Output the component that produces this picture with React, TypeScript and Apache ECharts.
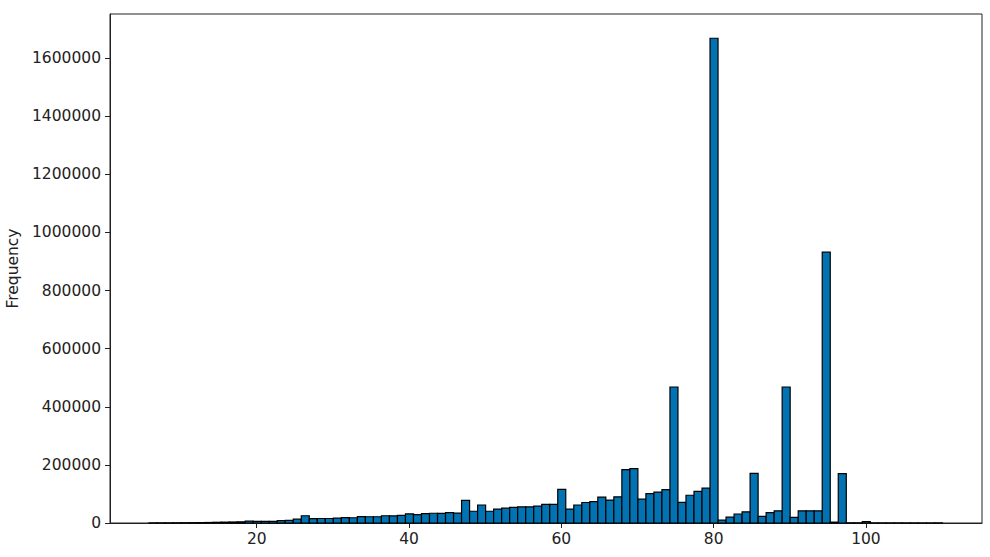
import React, { useEffect, useRef } from "react";
import * as echarts from "echarts";

// Histogram bins (start and width of the first bin, in x units)
const binStart = 5.85;
const binWidth = 1.0525;

// Frequency per bin
const counts = [
  300, 400, 500, 700, 900, 1100, 1400, 1800, 2500, 3000,
  3500, 4000, 6500, 5700, 5700, 5700, 8500, 9200, 13000, 25000,
  15000, 15500, 15500, 17000, 18500, 18000, 22000, 21500, 21500, 25000,
  24500, 26500, 31500, 28500, 32000, 33500, 33000, 36000, 34000, 78000,
  40500, 62000, 40500, 48000, 51000, 53500, 55500, 55500, 58000, 64000,
  64000, 116000, 48000, 62000, 70500, 73500, 89000, 79000, 90000, 184000,
  187000, 82000, 101000, 106000, 114500, 468000, 71000, 95500, 108500, 120000,
  1668000, 9700, 20000, 31000, 38500, 171000, 22500, 36000, 42000, 468000,
  19500, 42000, 42000, 42000, 932000, 3000, 170000, 600, 500, 5000,
  300, 200, 200, 200, 150, 150, 100, 100, 300,
];

const xTicks = [20, 40, 60, 80, 100];
const xMin = 0.73;
const xMax = 115.24;
const yMax = 1751400;
const yInterval = 200000;

export default function App() {
  const ref = useRef<HTMLDivElement>(null);

  useEffect(() => {
    if (!ref.current) return;
    const chart = echarts.init(ref.current, undefined, { renderer: "svg" });
    const data = counts.map((c, i) => [
      binStart + i * binWidth,
      binStart + (i + 1) * binWidth,
      c,
    ]);
    const font = "DejaVu Sans";
    const fs = 15.5;
    chart.setOption({
      animation: false,
      backgroundColor: "#ffffff",
      grid: {
        left: 110,
        right: 8,
        top: 14,
        bottom: 34,
        containLabel: false,
        outerBoundsMode: "none",
        show: true,
        borderColor: "#222",
        borderWidth: 1,
        backgroundColor: "transparent",
      },
      xAxis: {
        type: "value",
        min: xMin,
        max: xMax,
        splitLine: { show: false },
        axisLine: { show: true, onZero: false, lineStyle: { color: "#222", width: 1 } },
        axisTick: {
          show: true,
          inside: false,
          length: 5,
          customValues: xTicks,
          lineStyle: { color: "#222" },
        },
        axisLabel: {
          customValues: xTicks,
          margin: 8,
          color: "#222",
          fontFamily: font,
          fontSize: fs,
          formatter: (v: number) => String(v),
        },
      },
      yAxis: {
        type: "value",
        min: 0,
        max: yMax,
        interval: yInterval,
        name: "Frequency",
        nameLocation: "middle",
        nameGap: 84,
        nameTextStyle: { color: "#222", fontFamily: font, fontSize: fs },
        splitLine: { show: false },
        axisLine: { show: true, lineStyle: { color: "#222", width: 1 } },
        axisTick: { show: true, inside: false, length: 5, lineStyle: { color: "#222" } },
        axisLabel: {
          margin: 9,
          color: "#222",
          fontFamily: font,
          fontSize: fs,
          showMaxLabel: false,
          formatter: (v: number) => String(v),
        },
      },
      series: [
        {
          type: "custom",
          data,
          encode: { x: [0, 1], y: 2 },
          renderItem: (params: any, api: any) => {
            const x0 = api.value(0);
            const x1 = api.value(1);
            const y = api.value(2);
            const p0 = api.coord([x0, y]);
            const p1 = api.coord([x1, 0]);
            return {
              type: "rect",
              shape: {
                x: p0[0],
                y: p0[1],
                width: p1[0] - p0[0],
                height: p1[1] - p0[1],
              },
              style: { fill: "#0173b2", stroke: "#000", lineWidth: 1.2 },
            };
          },
        },
      ],
    });
    return () => chart.dispose();
  }, []);

  return (
    <div
      ref={ref}
      style={{ position: "fixed", left: 0, top: 0, width: 990, height: 557 }}
    />
  );
}
